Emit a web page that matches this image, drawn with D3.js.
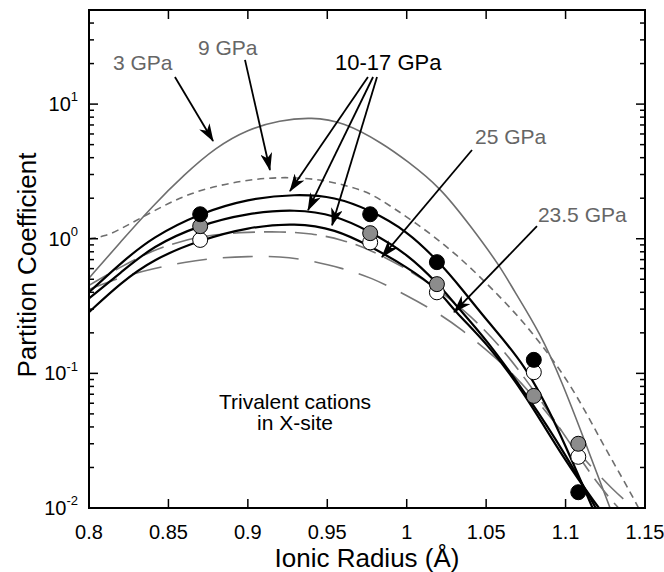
<!DOCTYPE html>
<html>
<head>
<meta charset="utf-8">
<script src="https://cdn.jsdelivr.net/npm/d3@7"></script>
<style>
  body { margin: 0; background: #fff; }
  svg { font-family: "Liberation Sans", Arial, Helvetica, sans-serif; }
</style>
</head>
<body>
<div id="chart"></div>
<script>
// ionic radius (A) vs partition coefficient
var gpa3 = [[0.80,0.51],[0.82,0.95],[0.84,1.75],[0.86,3.0],[0.88,4.8],[0.90,6.5],[0.92,7.6],[0.94,8.0],
  [0.96,7.4],[0.985,5.1],[1.00,3.8],[1.021,2.42],[1.040,1.25],[1.059,0.62],[1.067,0.42],[1.084,0.20],
  [1.098,0.085],[1.111,0.034],[1.128,0.01]];
var gpa9 = [[0.80,1.0],[0.81,1.04],[0.82,1.18],[0.8415,1.63],[0.8636,2.2],[0.8906,2.64],[0.918,2.9],
  [0.947,2.78],[0.972,2.30],[0.981,2.05],[1.006,1.31],[1.031,0.78],[1.059,0.37],[1.078,0.21],
  [1.103,0.085],[1.122,0.032],[1.140,0.0136],[1.146,0.01]];
var gpa10a = [[0.80,0.40],[0.82,0.66],[0.84,1.03],[0.87,1.55],[0.90,1.98],[0.93,2.15],[0.955,2.05],
  [0.977,1.63],[1.00,1.15],[1.02,0.68],[1.035,0.42],[1.05,0.25],[1.075,0.115],[1.095,0.04],[1.117,0.01]];
var gpa10b = [[0.80,0.36],[0.82,0.56],[0.84,0.88],[0.87,1.27],[0.90,1.55],[0.93,1.66],[0.955,1.5],
  [0.977,1.13],[1.00,0.78],[1.02,0.46],[1.032,0.31],[1.05,0.18],[1.078,0.063],[1.10,0.025],[1.119,0.01]];
var gpa10c = [[0.80,0.285],[0.82,0.47],[0.84,0.70],[0.87,0.98],[0.90,1.22],[0.93,1.31],[0.955,1.18],
  [0.977,0.88],[1.00,0.62],[1.02,0.42],[1.03,0.29],[1.05,0.17],[1.073,0.075],[1.10,0.022],[1.121,0.01]];
var gpa25 = [[0.80,0.45],[0.82,0.62],[0.84,0.82],[0.86,0.98],[0.88,1.08],[0.90,1.12],[0.92,1.13],
  [0.94,1.10],[0.96,0.98],[0.977,0.83],[1.00,0.60],[1.02,0.42],[1.04,0.27],[1.06,0.155],[1.08,0.075],
  [1.10,0.034],[1.12,0.015],[1.135,0.0095]];
var gpa235 = [[0.80,0.42],[0.82,0.52],[0.84,0.60],[0.86,0.67],[0.88,0.72],[0.90,0.74],[0.92,0.74],
  [0.94,0.69],[0.96,0.60],[0.977,0.52],[1.00,0.38],[1.02,0.28],[1.035,0.21],[1.05,0.15],[1.065,0.105],
  [1.086,0.056],[1.11,0.024],[1.13,0.0135],[1.145,0.0095]];

// measured points
var radii = [0.87, 0.977, 1.019, 1.08, 1.108];
var blackPts = [1.52, 1.52, 0.67, 0.126, 0.0131];
var grayPts = [1.24, 1.10, 0.46, 0.068, 0.030];
var whitePts = [0.98, 0.94, 0.40, 0.102, 0.024];

var xTicks = [0.8, 0.85, 0.9, 0.95, 1, 1.05, 1.1, 1.15];
var xTickLabels = ["0.8", "0.85", "0.9", "0.95", "1", "1.05", "1.1", "1.15"];
var yTicks = [0.01, 0.1, 1, 10];
var yTickExp = ["-2", "-1", "0", "1"];

// labels and arrows, in data units
var labels = [
  {text: "3 GPa", r: 0.8151, k: 20.2, color: "#666"},
  {text: "9 GPa", r: 0.8686, k: 26.1, color: "#666"},
  {text: "10-17 GPa", r: 0.9549, k: 20.5, color: "#000"},
  {text: "25 GPa", r: 1.043, k: 5.69, color: "#666"},
  {text: "23.5 GPa", r: 1.0826, k: 1.50, color: "#666"}
];
var arrows = [
  [[0.8541,15.9],[0.8781,5.32]],
  [[0.8982,21.3],[0.9139,3.24]],
  [[0.9756,15.9],[0.9265,2.26]],
  [[0.9788,15.9],[0.9379,1.63]],
  [[0.9813,15.9],[0.9530,1.26]],
  [[1.0411,4.56],[0.9844,0.731]],
  [[1.082,1.24],[1.0298,0.285]]
];

var margin = {top: 10, right: 19, bottom: 64, left: 89},
  width = 664 - margin.left - margin.right,
  height = 572 - margin.top - margin.bottom;

var x = d3.scaleLinear().domain([0.8, 1.15]).range([0, width]);
var y = d3.scaleLog().domain([0.01, 50]).range([height, 0]);

var svg = d3.select("#chart").append("svg")
  .attr("width", 664)
  .attr("height", 572)
  .append("g")
  .attr("transform", "translate(" + margin.left + "," + margin.top + ")");

svg.append("defs").append("clipPath").attr("id", "clip")
  .append("rect").attr("width", width).attr("height", height);

svg.select("defs").append("marker")
  .attr("id", "head")
  .attr("viewBox", "0 0 18 12")
  .attr("refX", 17).attr("refY", 6)
  .attr("markerUnits", "userSpaceOnUse")
  .attr("markerWidth", 18).attr("markerHeight", 12)
  .attr("orient", "auto")
  .append("path").attr("d", "M0,0 L18,6 L0,12 L5,6 Z").attr("fill", "#000");

var line = d3.line()
  .x(function(d) { return x(d[0]); })
  .y(function(d) { return y(d[1]); })
  .curve(d3.curveBasis);

var curves = svg.append("g").attr("clip-path", "url(#clip)").attr("fill", "none");

function curve(data, color, w, dash) {
  curves.append("path")
    .datum(data)
    .attr("d", line)
    .attr("stroke", color)
    .attr("stroke-width", w)
    .attr("stroke-dasharray", dash);
}

curve(gpa3, "#6e6e6e", 1.6, null);
curve(gpa9, "#6e6e6e", 1.6, "7,5");
curve(gpa25, "#777", 1.6, "22,9");
curve(gpa235, "#777", 1.6, "30,16");
curve(gpa10a, "#000", 2.2, null);
curve(gpa10b, "#000", 2.2, null);
curve(gpa10c, "#000", 2.2, null);

// circles: white under gray under black
[[whitePts, "#fff"], [grayPts, "#8c8c8c"], [blackPts, "#000"]].forEach(function(s) {
  svg.append("g").selectAll("circle")
    .data(s[0])
    .enter().append("circle")
    .attr("cx", function(d, i) { return x(radii[i]); })
    .attr("cy", function(d) { return y(d); })
    .attr("r", 7.5)
    .attr("fill", s[1])
    .attr("stroke", "#000")
    .attr("stroke-width", 1);
});

// arrows
svg.append("g").selectAll("line")
  .data(arrows)
  .enter().append("line")
  .attr("x1", function(d) { return x(d[0][0]); })
  .attr("y1", function(d) { return y(d[0][1]); })
  .attr("x2", function(d) { return x(d[1][0]); })
  .attr("y2", function(d) { return y(d[1][1]); })
  .attr("stroke", "#000")
  .attr("stroke-width", 1.8)
  .attr("marker-end", "url(#head)");

svg.append("g").selectAll("text")
  .data(labels)
  .enter().append("text")
  .attr("x", function(d) { return x(d.r); })
  .attr("y", function(d) { return y(d.k); })
  .attr("dy", "0.35em")
  .attr("font-size", function(d) { return d.color == "#000" ? 22 : 21; })
  .attr("fill", function(d) { return d.color; })
  .text(function(d) { return d.text; });

var note = svg.append("text")
  .attr("text-anchor", "middle")
  .attr("font-size", 21);
note.append("tspan").attr("x", x(0.9297)).attr("y", y(0.0612)).attr("dy", "0.35em").text("Trivalent cations");
note.append("tspan").attr("x", x(0.9297)).attr("y", y(0.0428)).attr("dy", "0.35em").text("in X-site");

// frame and ticks
svg.append("rect")
  .attr("width", width).attr("height", height)
  .attr("fill", "none").attr("stroke", "#000").attr("stroke-width", 2);

var minor = [];
[0.01, 0.1, 1, 10].forEach(function(dec) {
  for (var k = 2; k <= 9; k++) if (k * dec < 50) minor.push(k * dec);
});

var ticks = svg.append("g").attr("stroke", "#000").attr("stroke-width", 1.5);
xTicks.forEach(function(t) {
  ticks.append("line").attr("x1", x(t)).attr("x2", x(t)).attr("y1", height).attr("y2", height - 9);
  ticks.append("line").attr("x1", x(t)).attr("x2", x(t)).attr("y1", 0).attr("y2", 9);
});
yTicks.forEach(function(t) {
  ticks.append("line").attr("x1", 0).attr("x2", 9).attr("y1", y(t)).attr("y2", y(t));
  ticks.append("line").attr("x1", width).attr("x2", width - 9).attr("y1", y(t)).attr("y2", y(t));
});
minor.forEach(function(t) {
  ticks.append("line").attr("x1", 0).attr("x2", 5).attr("y1", y(t)).attr("y2", y(t));
  ticks.append("line").attr("x1", width).attr("x2", width - 5).attr("y1", y(t)).attr("y2", y(t));
});

svg.append("g").selectAll("text")
  .data(xTicks)
  .enter().append("text")
  .attr("x", function(d) { return x(d); })
  .attr("y", height + 24)
  .attr("dy", "0.35em")
  .attr("text-anchor", "middle")
  .attr("font-size", 20)
  .text(function(d, i) { return xTickLabels[i]; });

var yl = svg.append("g").selectAll("text")
  .data(yTicks)
  .enter().append("text")
  .attr("x", -11)
  .attr("y", function(d) { return y(d); })
  .attr("dy", "0.35em")
  .attr("text-anchor", "end")
  .attr("font-size", 20);
yl.append("tspan").text("10");
yl.append("tspan").attr("font-size", 13).attr("dy", "-0.75em")
  .text(function(d, i) { return yTickExp[i]; });

svg.append("text")
  .attr("x", width / 2)
  .attr("y", height + 50)
  .attr("dy", "0.35em")
  .attr("text-anchor", "middle")
  .attr("font-size", 26)
  .text("Ionic Radius (Å)");

svg.append("text")
  .attr("transform", "translate(" + (-62) + "," + (height / 2 + 6) + ") rotate(-90)")
  .attr("dy", "0.35em")
  .attr("text-anchor", "middle")
  .attr("font-size", 26)
  .text("Partition Coefficient");
</script>
</body>
</html>
